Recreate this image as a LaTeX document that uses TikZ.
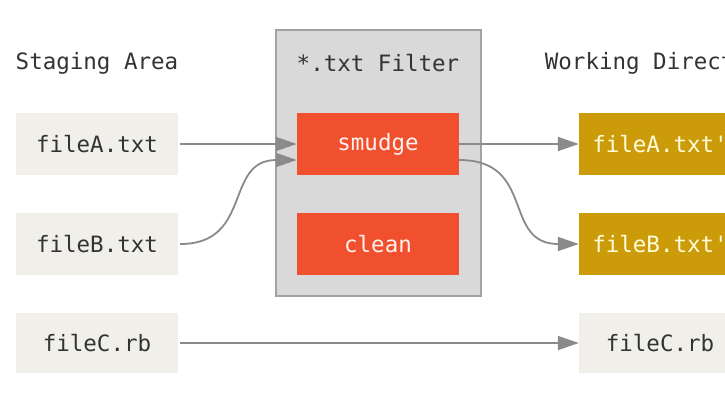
\documentclass[tikz,border=0pt]{standalone}
\usepackage{fontspec}
\setmonofont{DejaVu Sans Mono}
\usetikzlibrary{arrows.meta, positioning}
\definecolor{stagebg}{RGB}{240,239,233}
\definecolor{filterbg}{RGB}{217,217,217}
\definecolor{filterln}{RGB}{162,162,162}
\definecolor{hookred}{RGB}{241,80,47}
\definecolor{wdgold}{RGB}{204,155,10}
\definecolor{linkgray}{RGB}{138,138,138}
\definecolor{txtdark}{RGB}{51,51,51}
\begin{document}
\begin{tikzpicture}[x=1pt, y=-1pt,
	font=\ttfamily\fontsize{22.5}{25}\selectfont,
	filebox/.style={minimum width=162pt, minimum height=62pt, inner sep=0pt, fill=stagebg, text=txtdark},
	hookbox/.style={filebox, fill=hookred, text=white!92!hookred},
	wdbox/.style={filebox, fill=wdgold, text=white!85!yellow},
	title/.style={text=txtdark},
	link/.style={draw=linkgray, line width=1.8pt, -{Triangle[length=21pt, width=14pt]}}]
	\path[use as bounding box, clip] (0,0) rectangle (725,408);
	\fill[white] (0,0) rectangle (725,408);
	\def\dy{-16pt}

	% --- filter frame ---
	\draw[fill=filterbg, draw=filterln, line width=1.5pt] (276,30) rectangle (481,296);

	\node[title] (stage) at (97,63) {Staging Area};
	\node[title] (filter) at (378,63) {*.txt Filter};
	\node[title] (wd) at (660,63) {Working Directory};

	\node[filebox] (fileA) at (97,144) {fileA.txt};
	\node[filebox] (fileB) at (97,244) {fileB.txt};
	\node[filebox, minimum height=60pt] (fileC) at (97,343) {fileC.rb};

	\node[hookbox] (smudge) at (378,144) {smudge};
	\node[hookbox] (clean) at (378,244) {clean};

	\node[wdbox] (wdA) at (660,144) {fileA.txt'};
	\node[wdbox] (wdB) at (660,244) {fileB.txt'};
	\node[filebox, minimum height=60pt] (wdC) at (660,343) {fileC.rb};

	% --- checkout through smudge ---
	\draw[link] ([xshift=2pt]fileA.east) -- (smudge.west);
	\draw[link] ([xshift=2pt]fileB.east) to[out=0, in=180, looseness=1.3] ([yshift=\dy]smudge.west);
	\draw[link] (smudge.east) -- (wdA.west);
	\draw[link] ([yshift=\dy]smudge.east) to[out=0, in=180, looseness=1.35] (wdB.west);
	\draw[link] ([xshift=2pt]fileC.east) -- (wdC.west);
\end{tikzpicture}
\end{document}
